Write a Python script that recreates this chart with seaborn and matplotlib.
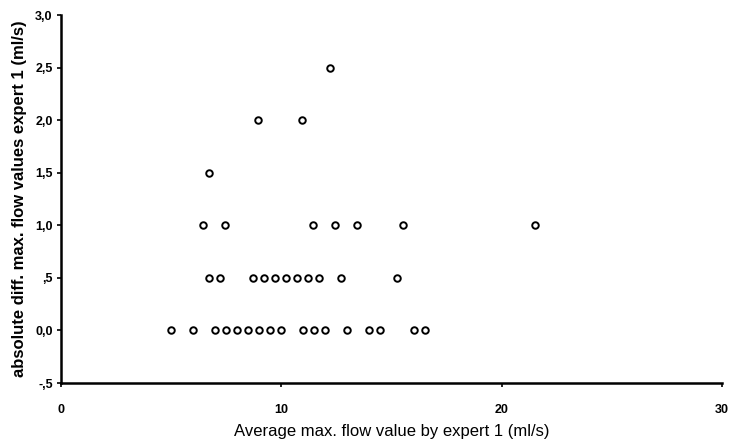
import matplotlib
matplotlib.use("Agg")
import matplotlib.pyplot as plt
import seaborn as sns
import pandas as pd

# Data
x_diff0 = [5, 6, 7, 7.5, 8, 8.5, 9, 9.5, 10, 11, 11.5, 12, 13, 14, 14.5, 16, 16.5]
x_diff05 = [6.7, 7.2, 8.7, 9.2, 9.7, 10.2, 10.7, 11.2, 11.7, 12.7, 15.25]
x_diff10 = [6.45, 7.45, 11.45, 12.45, 13.45, 15.5, 21.5]
x_diff15 = [6.7]
x_diff20 = [8.95, 10.95]
x_diff25 = [12.2]

y_ticks = [-0.5, 0.0, 0.5, 1.0, 1.5, 2.0, 2.5, 3.0]
y_ticklabels = ["-,5", "0,0", ",5", "1,0", "1,5", "2,0", "2,5", "3,0"]
x_ticks = [0, 10, 20, 30]
x_ticklabels = ["0", "10", "20", "30"]

xs = x_diff0 + x_diff05 + x_diff10 + x_diff15 + x_diff20 + x_diff25
ys = ([0.0] * len(x_diff0) + [0.5] * len(x_diff05) + [1.0] * len(x_diff10)
      + [1.5] * len(x_diff15) + [2.0] * len(x_diff20) + [2.5] * len(x_diff25))
df = pd.DataFrame({"x": xs, "y": ys})

sns.set_style("ticks")
plt.rcParams["font.family"] = ["Liberation Sans", "DejaVu Sans"]
plt.rcParams["text.color"] = "black"
plt.rcParams["axes.labelcolor"] = "black"

fig = plt.figure(figsize=(7.29, 4.44), dpi=100)
ax = fig.add_axes([61 / 729, 1 - 383 / 444, (722 - 61) / 729, (383 - 15) / 444])

sns.scatterplot(data=df, x="x", y="y", ax=ax, marker="o", s=22,
                facecolor="white", edgecolor="black", linewidth=1.4, zorder=3)

ax.set_xlim(0, 30)
ax.set_ylim(-0.5, 3.0)
ax.set_xticks(x_ticks)
ax.set_xticklabels(x_ticklabels, fontsize=9, fontweight="bold")
ax.set_yticks(y_ticks)
ax.set_yticklabels(y_ticklabels, fontsize=9, fontweight="bold")

for side in ["top", "right"]:
    ax.spines[side].set_visible(False)
for side in ["left", "bottom"]:
    ax.spines[side].set_linewidth(1.8)
    ax.spines[side].set_color("black")

ax.tick_params(axis="x", direction="out", length=3, width=1.2, pad=12, colors="black")
ax.tick_params(axis="y", direction="out", length=3, width=1.2, pad=3, colors="black")

ax.set_xlabel("Average max. flow value by expert 1 (ml/s)", fontsize=12, labelpad=6,
              color="black")
ax.set_ylabel("absolute diff. max. flow values expert 1 (ml/s)", fontsize=12,
              fontweight="bold", labelpad=6, color="black")

fig.savefig("out.png", dpi=100)
